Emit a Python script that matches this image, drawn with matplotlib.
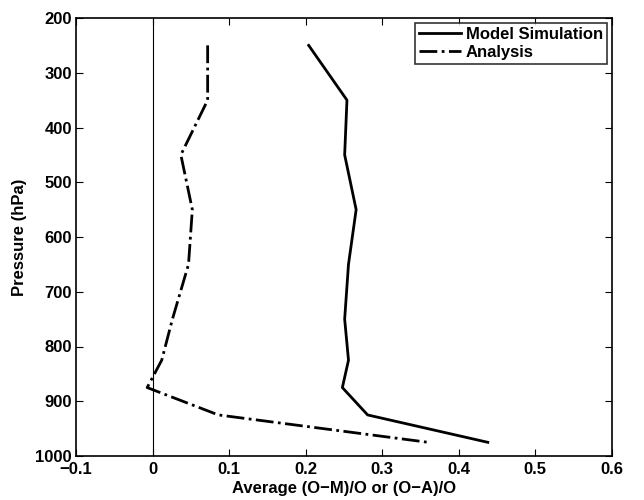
import matplotlib
matplotlib.use('Agg')
import matplotlib.pyplot as plt

plt.rcParams['font.family'] = ['Liberation Sans', 'DejaVu Sans']
plt.rcParams['font.weight'] = 'bold'

# pressure levels (hPa)
p_model = [250, 350, 450, 550, 650, 750, 825, 875, 925, 975]
model = [0.204, 0.254, 0.251, 0.266, 0.256, 0.251, 0.256, 0.248, 0.281, 0.438]

p_anal = [250, 350, 450, 550, 650, 750, 825, 875, 925, 975]
anal = [0.072, 0.072, 0.037, 0.052, 0.047, 0.026, 0.012, -0.007, 0.086, 0.360]

fig = plt.figure(figsize=(6.44, 5.0), dpi=100)
ax = fig.add_axes([0.118, 0.088, 0.832, 0.876])

ax.axvline(0, color='k', lw=0.8)
ax.plot(model, p_model, '-k', lw=2, label='Model Simulation')
ax.plot(anal, p_anal, '-.k', lw=2, label='Analysis')

ax.set_xlim(-0.1, 0.6)
ax.set_ylim(1000, 200)
ax.set_xticks([-0.1, 0, 0.1, 0.2, 0.3, 0.4, 0.5, 0.6])
ax.set_xticklabels(['\u22120.1', '0', '0.1', '0.2', '0.3', '0.4', '0.5', '0.6'])
ax.set_yticks(range(200, 1001, 100))
ax.tick_params(direction='in', top=True, right=True, length=5, labelsize=12)
ax.tick_params(axis='x', pad=4)
ax.tick_params(axis='y', pad=3)
for lab in ax.get_xticklabels() + ax.get_yticklabels():
    lab.set_fontweight('bold')
for s in ax.spines.values():
    s.set_linewidth(1.2)

ax.set_xlabel('Average (O\u2212M)/O or (O\u2212A)/O', fontsize=12, fontweight='bold', labelpad=3)
ax.set_ylabel('Pressure (hPa)', fontsize=12, fontweight='bold', labelpad=6)

leg = ax.legend(loc='upper right', fontsize=12, frameon=True, fancybox=False,
                edgecolor='k', borderaxespad=0.3, handlelength=2.5,
                borderpad=0.25, labelspacing=0.15, handletextpad=0.3)
leg.get_frame().set_linewidth(1.2)
for t in leg.get_texts():
    t.set_fontweight('bold')

fig.savefig('out.png', dpi=100)
